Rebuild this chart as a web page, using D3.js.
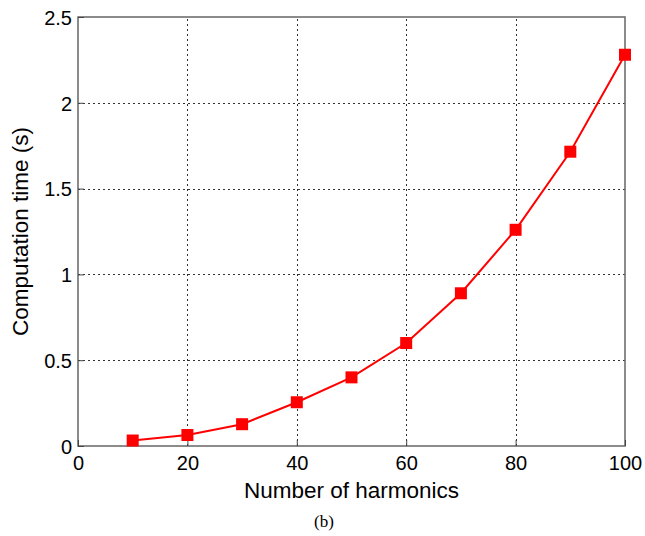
<!DOCTYPE html>
<html><head><meta charset="utf-8">
<script src="https://cdn.jsdelivr.net/npm/d3@7"></script>
<style>body{margin:0;background:#fff}svg{display:block}</style>
</head><body>
<script>
const harmonics = [10,20,30,40,50,60,70,80,90,100];
const times = [0.032,0.064,0.127,0.255,0.40,0.60,0.89,1.26,1.715,2.28];
const xTicks = [0,20,40,60,80,100];
const yTicks = [0,0.5,1,1.5,2,2.5];
const xTitle = "Number of harmonics";
const yTitle = "Computation time (s)";
const caption = "(b)";

const W=645,H=536, m={l:78,r:20,t:17,b:90};
const svg=d3.select("body").append("svg").attr("width",W).attr("height",H);
const x=d3.scaleLinear().domain([0,100]).range([m.l,W-m.r]);
const y=d3.scaleLinear().domain([0,2.5]).range([H-m.b,m.t]);
const font="'Liberation Sans', Arial, sans-serif";

// grid
const g=svg.append("g");
g.selectAll(".gx").data(xTicks.slice(1,-1)).enter().append("line")
 .attr("x1",d=>Math.round(x(d))+0.5).attr("x2",d=>Math.round(x(d))+0.5)
 .attr("y1",y(0)).attr("y2",y(2.5)).attr("stroke","#333").attr("stroke-width",1).attr("stroke-dasharray","2,3");
g.selectAll(".gy").data(yTicks.slice(1,-1)).enter().append("line")
 .attr("y1",d=>Math.round(y(d))+0.5).attr("y2",d=>Math.round(y(d))+0.5)
 .attr("x1",x(0)).attr("x2",x(100)).attr("stroke","#333").attr("stroke-width",1).attr("stroke-dasharray","2,3");

// frame
svg.append("rect").attr("x",x(0)).attr("y",y(2.5)).attr("width",x(100)-x(0)).attr("height",y(0)-y(2.5))
 .attr("fill","none").attr("stroke","#666").attr("stroke-width",1.5);

// axes
const ax=svg.append("g").attr("transform",`translate(0,${y(0)})`)
 .call(d3.axisBottom(x).tickValues(xTicks).tickSize(-6).tickPadding(10));
const ay=svg.append("g").attr("transform",`translate(${x(0)},0)`)
 .call(d3.axisLeft(y).tickValues(yTicks).tickFormat(d3.format("")).tickSize(-6).tickPadding(6));
[ax,ay].forEach(a=>{a.select(".domain").remove();
 a.selectAll("line").attr("stroke","#444");
 a.selectAll("text").attr("font-family",font).attr("font-size",20).attr("fill","#000");});
ax.selectAll("text").attr("y",24).attr("dy","0");
ay.selectAll("text").attr("dy","0.36em");

// line + markers
svg.append("path").datum(harmonics.map((h,i)=>[h,times[i]]))
 .attr("d",d3.line().x(d=>x(d[0])).y(d=>y(d[1])))
 .attr("fill","none").attr("stroke","#ff0000").attr("stroke-width",2);
svg.selectAll(".mk").data(harmonics).enter().append("rect")
 .attr("x",(d)=>x(d)-6).attr("y",(d,i)=>y(times[i])-6).attr("width",12).attr("height",12).attr("fill","#ff0000");

// titles
svg.append("text").attr("x",(x(0)+x(100))/2).attr("y",498).attr("text-anchor","middle")
 .attr("font-family",font).attr("font-size",22.5).text(xTitle);
svg.append("text").attr("transform",`translate(28,${(y(0)+y(2.5))/2}) rotate(-90)`).attr("text-anchor","middle")
 .attr("font-family",font).attr("font-size",22.5).text(yTitle);
svg.append("text").attr("x",324).attr("y",527).attr("text-anchor","middle")
 .attr("font-family","'Liberation Serif', 'Times New Roman', serif").attr("font-size",17).text(caption);
</script>
</body></html>
